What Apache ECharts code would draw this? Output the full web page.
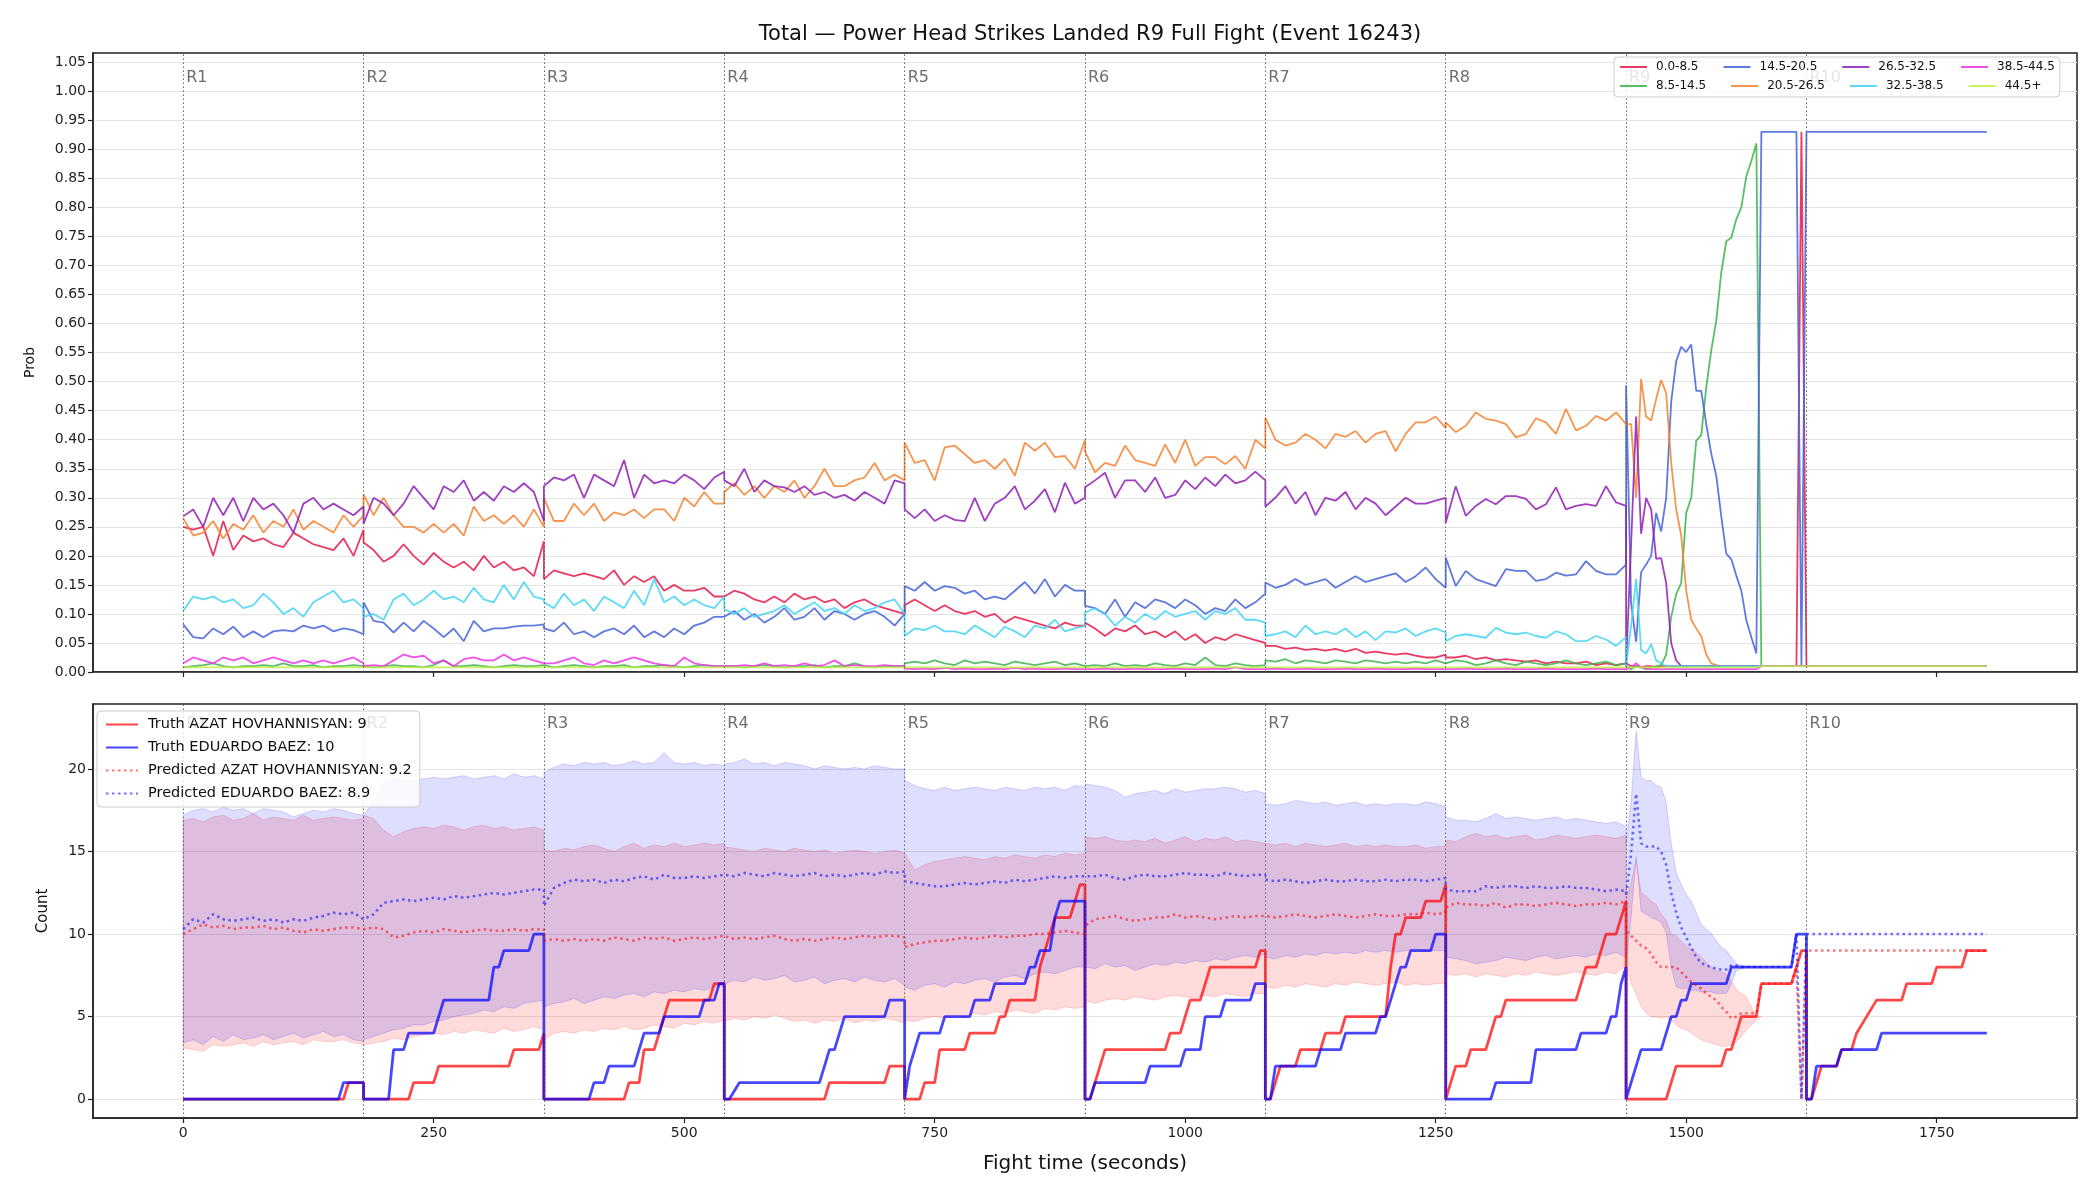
<!DOCTYPE html>
<html>
<head>
<meta charset="utf-8">
<script src="https://cdn.jsdelivr.net/npm/echarts@6/dist/echarts.min.js"></script>
<style>html,body{margin:0;padding:0;background:#fff}#c{width:2100px;height:1200px}</style>
</head>
<body>
<div id="c"></div>
<script>
// ---------------- DATA ----------------
const roundStarts = [0,180,360,540,720,900,1080,1260,1440,1620];
const roundLabels = ['R1','R2','R3','R4','R5','R6','R7','R8','R9','R10'];
const probTicks = [0,0.05,0.10,0.15,0.20,0.25,0.30,0.35,0.40,0.45,0.50,0.55,0.60,0.65,0.70,0.75,0.80,0.85,0.90,0.95,1.00,1.05];
const countTicks = [0,5,10,15,20];
const timeTicks = [0,250,500,750,1000,1250,1500,1750];

// sample times: rounds 1-8 every 10 s (round start..round end), round 9 every 5 s, round 10 start/end
const tGrid = [];
for (let r = 0; r < 8; r++) for (let k = 0; k <= 18; k++) tGrid.push(roundStarts[r] + 10 * k);
for (let k = 0; k < 36; k++) tGrid.push(1440 + 5 * k);
tGrid.push(1620, 1800);

const bucketNames = ['0.0-8.5','8.5-14.5','14.5-20.5','20.5-26.5','26.5-32.5','32.5-38.5','38.5-44.5','44.5+'];

const prob_0_8 = [
0.25,0.245,0.25,0.20,0.26,0.21,0.235,0.225,0.23,0.22,0.215,0.24,0.23,0.22,0.215,0.21,0.23,0.20,0.245,
0.223,0.21,0.19,0.20,0.22,0.20,0.185,0.205,0.19,0.18,0.19,0.175,0.20,0.18,0.19,0.175,0.18,0.165,0.225,
0.16,0.175,0.17,0.165,0.17,0.165,0.16,0.175,0.15,0.165,0.155,0.165,0.14,0.15,0.14,0.14,0.145,0.13,0.13,
0.13,0.14,0.135,0.125,0.12,0.13,0.12,0.135,0.125,0.13,0.12,0.125,0.11,0.12,0.125,0.115,0.11,0.105,0.10,
0.115,0.125,0.115,0.105,0.115,0.105,0.10,0.105,0.095,0.10,0.085,0.095,0.09,0.085,0.08,0.075,0.085,0.08,0.08,
0.085,0.075,0.062,0.075,0.07,0.08,0.065,0.07,0.06,0.07,0.055,0.065,0.05,0.06,0.055,0.065,0.06,0.055,0.05,
0.045,0.045,0.04,0.042,0.038,0.04,0.037,0.04,0.035,0.04,0.033,0.035,0.032,0.03,0.032,0.028,0.025,0.025,0.03,
0.025,0.025,0.028,0.022,0.025,0.02,0.022,0.02,0.018,0.02,0.015,0.018,0.015,0.015,0.018,0.012,0.015,0.012,0.015,
0.012,0.01,0.01,0.008,0.01,0.01,0.008,0.01,0.01,0.01, 0.01,0.01,0.01,0.01,0.01,0.01,0.01,0.01,0.01,0.01,
0.01,0.01,0.01,0.01,0.01,0.01,0.01,0.01,0.01,0.01, 0.01,0.01,0.01,0.01,0.01,0.93,
0.01,0.01];

const prob_8_14 = [
0.008,0.01,0.012,0.015,0.01,0.008,0.01,0.01,0.012,0.01,0.015,0.01,0.01,0.012,0.008,0.01,0.01,0.012,0.01,
0.01,0.008,0.01,0.012,0.01,0.01,0.008,0.012,0.02,0.01,0.01,0.012,0.01,0.008,0.01,0.012,0.01,0.01,0.012,
0.01,0.008,0.01,0.012,0.01,0.008,0.01,0.01,0.012,0.008,0.01,0.01,0.012,0.01,0.008,0.01,0.012,0.01,0.01,
0.008,0.01,0.008,0.01,0.012,0.01,0.008,0.01,0.01,0.012,0.008,0.01,0.01,0.015,0.01,0.008,0.01,0.01,0.01,
0.015,0.018,0.015,0.02,0.015,0.012,0.02,0.015,0.018,0.015,0.012,0.018,0.015,0.012,0.015,0.018,0.012,0.015,0.01,
0.01,0.012,0.01,0.015,0.01,0.012,0.01,0.015,0.012,0.01,0.015,0.012,0.025,0.012,0.01,0.015,0.012,0.01,0.012,
0.02,0.018,0.022,0.015,0.02,0.018,0.015,0.02,0.018,0.015,0.02,0.018,0.015,0.018,0.015,0.018,0.015,0.02,0.015,
0.015,0.02,0.018,0.012,0.015,0.02,0.015,0.012,0.018,0.015,0.012,0.015,0.02,0.015,0.012,0.015,0.018,0.012,0.015,
0.01,0.005,0.01,0.008,0.005,0.008,0.01,0.012,0.03,0.095, 0.134,0.153,0.274,0.30,0.398,0.408,0.49,0.554,0.605,0.688,
0.742,0.748,0.78,0.80,0.854,0.88,0.91,0.01,0.01,0.01, 0.01,0.01,0.01,0.01,0.01,0.01,
0.01,0.01];

const prob_14_20 = [
0.082,0.06,0.058,0.075,0.065,0.078,0.06,0.07,0.06,0.07,0.072,0.07,0.08,0.075,0.08,0.07,0.075,0.072,0.065,
0.12,0.088,0.085,0.068,0.085,0.07,0.088,0.075,0.06,0.075,0.053,0.088,0.07,0.075,0.075,0.078,0.08,0.08,0.082,
0.075,0.07,0.085,0.065,0.07,0.06,0.07,0.075,0.065,0.08,0.06,0.07,0.06,0.075,0.065,0.08,0.085,0.095,0.095,
0.095,0.105,0.09,0.10,0.085,0.095,0.11,0.09,0.095,0.11,0.09,0.105,0.10,0.09,0.10,0.105,0.095,0.08,0.10,
0.148,0.14,0.155,0.14,0.148,0.145,0.135,0.14,0.125,0.13,0.125,0.14,0.155,0.135,0.16,0.13,0.15,0.14,0.14,
0.114,0.11,0.10,0.125,0.095,0.12,0.11,0.125,0.12,0.11,0.125,0.115,0.10,0.11,0.105,0.125,0.11,0.12,0.135,
0.154,0.145,0.15,0.16,0.15,0.155,0.16,0.145,0.155,0.165,0.155,0.16,0.165,0.17,0.155,0.165,0.18,0.16,0.145,
0.197,0.148,0.174,0.16,0.154,0.148,0.177,0.174,0.174,0.157,0.16,0.171,0.166,0.168,0.191,0.174,0.168,0.168,0.185,
0.494,0.118,0.052,0.172,0.185,0.2,0.274,0.242,0.30,0.465, 0.535,0.56,0.551,0.564,0.484,0.484,0.427,0.376,0.338,0.268,
0.204,0.194,0.166,0.14,0.089,0.06,0.032,0.93,0.93,0.93, 0.93,0.93,0.93,0.93,0.93,0.01,
0.93,0.93];

const prob_20_26 = [
0.265,0.235,0.24,0.26,0.23,0.255,0.245,0.27,0.24,0.26,0.25,0.28,0.245,0.26,0.25,0.24,0.27,0.25,0.27,
0.306,0.27,0.30,0.27,0.25,0.25,0.24,0.255,0.24,0.255,0.235,0.285,0.26,0.27,0.255,0.27,0.25,0.28,0.25,
0.30,0.26,0.26,0.29,0.27,0.29,0.26,0.275,0.27,0.28,0.265,0.28,0.28,0.26,0.30,0.285,0.31,0.29,0.29,
0.31,0.325,0.305,0.32,0.30,0.32,0.31,0.33,0.30,0.32,0.35,0.32,0.32,0.33,0.335,0.36,0.33,0.34,0.33,
0.395,0.36,0.365,0.33,0.387,0.39,0.375,0.36,0.365,0.35,0.367,0.338,0.395,0.381,0.395,0.37,0.372,0.35,0.40,
0.38,0.344,0.36,0.355,0.39,0.365,0.36,0.355,0.392,0.36,0.40,0.355,0.37,0.37,0.358,0.372,0.35,0.40,0.385,
0.438,0.40,0.39,0.395,0.41,0.40,0.385,0.41,0.405,0.415,0.395,0.41,0.415,0.38,0.41,0.43,0.43,0.44,0.42,
0.43,0.413,0.424,0.447,0.436,0.433,0.427,0.404,0.41,0.437,0.43,0.41,0.453,0.416,0.424,0.441,0.433,0.447,0.427,
0.43,0.427,0.30,0.505,0.44,0.433,0.47,0.503,0.48,0.36, 0.28,0.235,0.14,0.09,0.075,0.062,0.03,0.015,0.012,0.01,
0.01,0.01,0.01,0.01,0.01,0.01,0.01,0.01,0.01,0.01, 0.01,0.01,0.01,0.01,0.01,0.01,
0.01,0.01];

const prob_26_32 = [
0.268,0.28,0.25,0.30,0.27,0.30,0.26,0.30,0.28,0.29,0.27,0.24,0.29,0.30,0.28,0.29,0.28,0.27,0.285,
0.255,0.30,0.29,0.27,0.29,0.32,0.30,0.28,0.32,0.31,0.33,0.295,0.31,0.295,0.32,0.31,0.325,0.31,0.26,
0.32,0.335,0.33,0.34,0.30,0.34,0.33,0.32,0.365,0.30,0.34,0.325,0.33,0.325,0.34,0.33,0.315,0.335,0.345,
0.33,0.32,0.35,0.31,0.33,0.32,0.318,0.31,0.32,0.305,0.31,0.30,0.305,0.295,0.31,0.30,0.29,0.33,0.325,
0.28,0.265,0.28,0.26,0.27,0.262,0.26,0.30,0.26,0.29,0.30,0.32,0.28,0.295,0.315,0.275,0.326,0.29,0.30,
0.318,0.33,0.343,0.30,0.33,0.33,0.31,0.335,0.30,0.305,0.33,0.315,0.335,0.32,0.34,0.325,0.33,0.345,0.33,
0.285,0.30,0.32,0.29,0.31,0.27,0.30,0.295,0.31,0.28,0.30,0.29,0.27,0.285,0.30,0.29,0.29,0.295,0.30,
0.257,0.32,0.269,0.286,0.298,0.289,0.303,0.303,0.298,0.28,0.289,0.318,0.28,0.286,0.289,0.286,0.32,0.292,0.286,
0.01,0.22,0.44,0.238,0.30,0.28,0.195,0.196,0.153,0.05, 0.02,0.01,0.01,0.01,0.01,0.01,0.01,0.01,0.01,0.01,
0.01,0.01,0.01,0.01,0.01,0.01,0.01,0.01,0.01,0.01, 0.01,0.01,0.01,0.01,0.01,0.01,
0.01,0.01];

const prob_32_38 = [
0.105,0.13,0.125,0.13,0.12,0.125,0.11,0.115,0.135,0.12,0.10,0.11,0.095,0.12,0.13,0.14,0.12,0.125,0.11,
0.095,0.10,0.09,0.125,0.135,0.115,0.125,0.14,0.125,0.13,0.12,0.145,0.125,0.12,0.15,0.125,0.155,0.13,0.125,
0.12,0.11,0.135,0.115,0.125,0.105,0.13,0.12,0.11,0.14,0.115,0.16,0.12,0.13,0.115,0.125,0.115,0.11,0.13,
0.108,0.10,0.11,0.095,0.10,0.105,0.115,0.10,0.11,0.12,0.105,0.11,0.10,0.115,0.105,0.11,0.12,0.125,0.10,
0.062,0.075,0.072,0.08,0.07,0.07,0.065,0.08,0.07,0.06,0.078,0.07,0.06,0.08,0.075,0.09,0.07,0.075,0.08,
0.102,0.11,0.10,0.08,0.095,0.085,0.10,0.09,0.105,0.095,0.10,0.105,0.09,0.105,0.10,0.11,0.09,0.09,0.085,
0.062,0.065,0.07,0.06,0.08,0.065,0.07,0.065,0.075,0.06,0.07,0.055,0.07,0.068,0.075,0.062,0.07,0.075,0.068,
0.053,0.062,0.065,0.062,0.059,0.076,0.068,0.065,0.068,0.062,0.059,0.07,0.065,0.053,0.053,0.062,0.056,0.045,0.06,
0.01,0.08,0.16,0.038,0.032,0.048,0.02,0.015,0.01,0.01, 0.01,0.01,0.01,0.01,0.01,0.01,0.01,0.01,0.01,0.01,
0.01,0.01,0.01,0.01,0.01,0.01,0.01,0.01,0.01,0.01, 0.01,0.01,0.01,0.01,0.01,0.01,
0.01,0.01];

const prob_38_44 = [
0.015,0.025,0.02,0.015,0.025,0.02,0.025,0.015,0.02,0.025,0.02,0.015,0.02,0.015,0.02,0.015,0.02,0.025,0.015,
0.01,0.012,0.01,0.02,0.03,0.025,0.028,0.015,0.02,0.01,0.022,0.025,0.02,0.02,0.03,0.02,0.025,0.02,0.015,
0.012,0.015,0.02,0.025,0.015,0.012,0.02,0.015,0.02,0.025,0.02,0.015,0.012,0.01,0.025,0.015,0.012,0.01,0.01,
0.008,0.01,0.012,0.01,0.015,0.01,0.012,0.01,0.015,0.01,0.012,0.02,0.01,0.012,0.01,0.01,0.012,0.01,0.01,
0.006,0.005,0.006,0.005,0.007,0.005,0.006,0.005,0.005,0.006,0.005,0.007,0.005,0.006,0.005,0.005,0.006,0.005,0.005,
0.005,0.005,0.006,0.005,0.005,0.006,0.005,0.005,0.005,0.006,0.005,0.005,0.005,0.006,0.005,0.008,0.005,0.005,0.005,
0.005,0.006,0.005,0.005,0.006,0.005,0.005,0.005,0.006,0.005,0.005,0.006,0.005,0.005,0.005,0.006,0.005,0.005,0.005,
0.005,0.005,0.006,0.005,0.005,0.005,0.006,0.005,0.005,0.005,0.006,0.005,0.005,0.005,0.005,0.006,0.005,0.005,0.005,
0.005,0.008,0.015,0.008,0.006,0.005,0.005,0.005,0.005,0.005, 0.005,0.005,0.005,0.005,0.005,0.005,0.005,0.005,0.005,0.005,
0.005,0.005,0.005,0.005,0.005,0.005,0.005,0.01,0.01,0.01, 0.01,0.01,0.01,0.01,0.01,0.01,
0.01,0.01];

const prob_44p = [
0.008,0.008,0.008,0.008,0.008,0.008,0.008,0.008,0.008,0.008,0.008,0.008,0.008,0.008,0.008,0.008,0.008,0.008,0.008,
0.008,0.008,0.008,0.008,0.008,0.008,0.008,0.008,0.008,0.008,0.008,0.008,0.008,0.008,0.008,0.008,0.008,0.008,0.008,
0.008,0.008,0.008,0.008,0.008,0.008,0.008,0.008,0.008,0.008,0.008,0.008,0.008,0.008,0.008,0.008,0.008,0.008,0.008,
0.008,0.008,0.008,0.008,0.008,0.008,0.008,0.008,0.008,0.008,0.008,0.008,0.008,0.008,0.008,0.008,0.008,0.008,0.008,
0.008,0.008,0.008,0.008,0.008,0.008,0.008,0.008,0.008,0.008,0.008,0.008,0.008,0.008,0.008,0.008,0.008,0.008,0.008,
0.008,0.008,0.008,0.008,0.008,0.008,0.008,0.008,0.008,0.008,0.008,0.008,0.008,0.008,0.008,0.008,0.008,0.008,0.008,
0.008,0.008,0.008,0.008,0.008,0.008,0.008,0.008,0.008,0.008,0.008,0.008,0.008,0.008,0.008,0.008,0.008,0.008,0.008,
0.008,0.008,0.008,0.008,0.008,0.008,0.008,0.008,0.008,0.008,0.008,0.008,0.008,0.008,0.008,0.008,0.008,0.008,0.008,
0.008,0.008,0.008,0.008,0.008,0.008,0.008,0.008,0.008,0.008, 0.008,0.008,0.008,0.008,0.008,0.008,0.008,0.008,0.008,0.008,
0.008,0.008,0.008,0.008,0.008,0.008,0.008,0.01,0.01,0.01, 0.01,0.01,0.01,0.01,0.01,0.01,
0.01,0.01];

// predicted counts (same time grid)
const predAzat = [
10.0,10.3,10.6,10.4,10.5,10.3,10.4,10.4,10.5,10.3,10.4,10.2,10.1,10.3,10.2,10.3,10.4,10.4,10.3,
10.2,10.4,10.3,9.8,9.9,10.1,10.2,10.1,10.3,10.2,10.1,10.2,10.3,10.2,10.2,10.3,10.2,10.3,10.3,
9.6,9.7,9.6,9.7,9.6,9.7,9.6,9.8,9.7,9.6,9.8,9.7,9.8,9.6,9.7,9.8,9.7,9.8,9.9,
9.8,9.7,9.8,9.7,9.8,9.9,9.7,9.6,9.7,9.6,9.7,9.8,9.7,9.8,9.9,9.8,9.9,9.9,9.8,
9.2,9.4,9.5,9.6,9.6,9.7,9.8,9.7,9.8,9.9,9.8,9.9,9.9,10.0,10.0,10.1,10.2,10.1,10.0,
10.5,10.9,11.0,11.1,10.9,10.8,10.9,11.0,11.0,11.2,11.0,11.1,11.0,10.9,11.0,11.1,11.0,11.1,11.1,
11.1,11.0,11.1,11.2,11.1,11.0,11.1,11.2,11.1,11.0,11.1,11.2,11.1,11.1,11.2,11.2,11.3,11.2,11.3,
11.6,11.9,11.8,11.8,11.7,11.9,11.6,11.8,11.8,11.7,11.8,11.9,11.8,11.7,11.8,11.8,11.9,11.8,12.0,
10.2,9.9,9.6,9.3,9.15,8.8,8.3,8.0,8.0,8.0, 8.0,7.7,7.4,7.1,6.9,6.7,6.4,6.2,6.0,5.6,
5.3,4.9,5.0,5.2,5.2,5.2,5.2,7,7,7, 7,7,7,7,8,0,
9,9];

const predBaez = [
10.3,10.9,10.7,11.2,10.9,10.8,10.9,11.0,10.8,10.9,10.7,10.9,10.8,11.0,11.1,11.3,11.2,11.3,10.9,
10.9,11.2,11.9,12.0,12.1,12.0,12.1,12.2,12.1,12.3,12.2,12.3,12.4,12.5,12.4,12.5,12.6,12.7,12.7,
11.7,12.8,13.1,13.3,13.2,13.3,13.1,13.3,13.2,13.4,13.5,13.3,13.6,13.4,13.4,13.5,13.4,13.5,13.6,
13.6,13.5,13.7,13.6,13.5,13.7,13.6,13.5,13.6,13.7,13.5,13.6,13.5,13.6,13.7,13.6,13.8,13.7,13.8,
13.2,13.1,13.0,12.9,12.9,13.0,13.1,13.0,13.1,13.2,13.1,13.3,13.2,13.3,13.4,13.5,13.4,13.5,13.5,
13.6,13.5,13.6,13.4,13.3,13.5,13.6,13.5,13.5,13.6,13.7,13.6,13.6,13.5,13.7,13.6,13.5,13.6,13.6,
13.3,13.2,13.3,13.2,13.1,13.2,13.3,13.2,13.2,13.3,13.2,13.2,13.3,13.2,13.3,13.3,13.2,13.3,13.4,
12.7,12.6,12.6,12.6,12.9,12.8,12.9,12.9,12.8,12.9,12.8,12.8,12.9,12.8,12.8,12.7,12.6,12.7,12.6,
12.3,14.9,18.5,15.5,15.3,15.3,15.3,15.0,14.2,12.5, 11.3,10.4,9.8,9.2,8.6,8.25,8.1,8.0,7.9,7.85,
7.85,8.1,8.1,8.0,8.0,8.0,8.0,8,8,8, 8,8,8,8,10,0,
10,10];

// prediction bands (same time grid, up to t = 1575)
const azatHi = [
16.9,17.0,16.8,17.1,17.2,16.9,17.0,17.3,16.9,17.1,17.0,16.9,17.2,16.9,17.0,17.1,17.0,16.9,17.0,
17.2,17.0,16.3,15.9,16.2,16.4,16.5,16.4,16.6,16.5,16.3,16.5,16.6,16.4,16.5,16.3,16.4,16.5,16.3,
15.1,15.0,15.2,15.1,15.3,15.4,15.2,15.0,15.3,15.5,15.2,15.4,15.3,15.5,15.3,15.4,15.5,15.4,15.5,
15.3,15.2,15.1,15.0,15.2,15.1,15.0,15.2,15.1,15.0,15.1,14.9,15.0,15.1,15.0,14.9,15.0,15.1,14.9,
14.9,13.9,14.2,14.4,14.5,14.6,14.7,14.6,14.5,14.7,14.6,14.8,14.7,14.6,14.8,14.7,14.9,14.8,14.9,
15.9,15.8,15.9,15.7,15.6,15.7,15.6,15.8,15.5,15.7,15.9,15.6,15.8,15.7,15.9,15.6,15.7,15.6,15.5,
15.5,15.4,15.5,15.3,15.5,15.4,15.3,15.4,15.5,15.3,15.4,15.3,15.4,15.3,15.3,15.4,15.2,15.3,15.3,
15.7,15.6,15.9,16.1,15.9,16.0,15.8,15.9,16.0,15.7,15.8,16.0,15.9,15.8,15.9,16.0,15.9,15.8,16.0,
12.0,13.1,14.5,12.5,12.3,12.0,11.8,11.2,10.85,10.0, 9.9,9.6,9.3,9.1,8.9,8.6,8.3,8.0,7.8,7.7,
7.6,7.1,6.7,6.4,6.2,5.6,5.0,5.0];
const azatLo = [
3.1,3.0,2.9,3.3,3.2,3.3,3.4,3.2,3.5,3.3,3.4,3.5,3.3,3.6,3.5,3.5,3.6,3.4,3.3,
3.3,3.4,3.5,3.7,3.6,3.8,3.9,4.0,3.9,4.1,4.0,4.2,4.1,4.0,4.3,4.1,4.2,4.4,4.2,
3.6,4.0,4.1,4.0,4.2,4.1,4.3,4.2,4.4,4.2,4.3,4.5,4.4,4.3,4.6,4.5,4.7,4.6,4.8,
4.7,4.9,4.8,5.0,4.9,5.1,4.9,4.7,4.8,4.6,4.8,4.7,4.9,4.6,4.8,4.7,4.9,4.8,4.6,
4.8,4.7,4.9,5.0,4.9,5.1,5.0,5.2,5.1,5.3,5.2,5.4,5.3,5.2,5.5,5.4,5.6,5.5,5.6,
6.0,5.8,6.0,6.1,6.0,6.2,6.1,6.0,6.2,6.3,6.2,6.1,6.3,6.2,6.4,6.3,6.2,6.4,6.4,
6.8,6.7,6.9,6.8,7.0,6.9,6.8,7.0,6.9,7.1,7.0,6.9,7.0,7.1,6.9,7.0,6.9,7.0,7.0,
7.6,7.5,7.6,7.4,7.6,7.5,7.4,7.6,7.5,7.7,7.6,7.5,7.6,7.7,7.6,7.5,7.7,7.6,8.1,
8.2,7.0,6.4,5.6,5.2,5.0,5.0,4.9,5.0,4.8, 4.5,4.3,4.2,4.0,3.8,3.6,3.5,3.4,3.3,3.2,
3.2,3.3,3.5,3.8,4.2,4.5,4.8,5.0];
const baezHi = [
17.2,17.5,17.6,17.4,17.7,17.5,17.6,17.3,17.6,17.5,17.4,17.1,17.3,17.5,17.4,17.6,17.5,17.3,17.2,
17.1,18.1,19.2,19.4,19.3,19.3,19.4,19.5,19.4,19.5,19.6,19.4,19.5,19.6,19.4,19.7,19.5,19.6,19.4,
19.8,20.1,20.3,20.2,20.4,20.3,20.4,20.2,20.3,20.5,20.3,20.4,21.0,20.4,20.3,20.4,20.2,20.3,20.2,
20.3,20.4,20.6,20.3,20.4,20.2,20.4,20.3,20.2,20.0,20.2,20.1,20.0,20.1,20.0,20.2,20.1,20.0,20.0,
19.3,19.0,18.8,18.7,18.9,18.7,18.8,18.9,18.8,18.7,18.9,18.8,18.7,18.9,18.8,18.9,18.7,19.0,18.9,
19.1,19.0,18.9,18.7,18.3,18.5,18.6,18.7,18.5,18.8,18.6,18.7,18.8,18.8,18.9,18.8,18.6,18.7,18.5,
17.9,17.8,17.9,18.1,18.0,17.9,18.0,17.8,17.9,18.0,17.8,17.9,17.8,17.9,17.9,17.8,18.0,17.9,17.7,
17.1,16.9,16.9,16.8,17.0,17.3,17.0,17.1,17.0,16.9,17.0,17.1,16.9,17.0,16.9,16.8,16.7,16.8,16.5,
15.5,18.0,22.3,19.5,19.3,19.3,19.0,18.9,18.0,15.5, 13.7,13.0,12.4,12.0,11.3,10.6,10.3,10.05,9.6,9.2,
9.0,8.6,8.2,8.1,8.05,8.0,8.0,8.0];
const baezLo = [
3.4,3.6,3.3,3.8,3.5,3.9,3.6,3.7,3.9,3.6,3.8,4.0,3.7,3.9,4.1,3.8,3.9,3.6,3.5,
3.6,3.8,4.0,4.2,4.3,4.5,4.5,4.7,4.8,5.0,5.1,5.2,5.4,5.3,5.6,5.5,5.8,5.9,6.0,
5.6,5.8,5.9,6.1,5.8,6.0,6.2,6.1,6.3,6.4,6.2,6.5,6.4,6.6,6.5,6.7,6.6,6.8,6.9,
7.0,7.2,7.1,7.4,7.2,7.3,7.5,7.1,7.2,7.4,7.0,7.2,7.3,7.1,7.4,7.2,7.1,7.3,6.9,
6.8,6.6,6.9,7.0,6.8,7.1,7.0,7.2,7.3,7.1,7.4,7.5,7.3,7.6,7.7,7.6,7.8,8.0,8.0,
8.0,7.9,8.2,8.0,8.1,7.8,8.0,8.2,8.1,8.3,8.2,8.4,8.3,8.5,8.4,8.6,8.7,8.6,8.8,
8.6,8.5,8.7,8.6,8.8,8.7,8.9,8.8,8.9,8.8,9.0,8.9,9.0,8.9,9.0,9.1,9.0,9.0,9.0,
8.6,8.5,8.4,8.2,8.3,8.4,8.6,8.5,8.4,8.6,8.7,8.5,8.6,8.7,8.6,8.8,8.7,8.9,8.6,
8.2,11.0,14.7,11.4,11.2,11.0,10.9,10.7,10.1,8.0, 6.8,6.7,6.7,6.6,6.6,6.5,6.5,6.5,6.4,6.4,
6.4,7.0,7.8,7.9,8.0,8.0,8.0,8.0];

// truth counts: [time, count] at each change
const truthAzat = [
[0,0],[160,0],[165,1],[180,1],
[180,0],[225,0],[230,1],[250,1],[255,2],[325,2],[330,3],[355,3],[360,4],
[360,0],[440,0],[445,1],[455,1],[460,3],[470,3],[475,4],[480,5],[485,6],[525,6],[530,7],[540,7],
[540,0],[640,0],[645,1],[700,1],[705,2],[720,2],
[720,0],[735,0],[740,1],[750,1],[755,3],[780,3],[785,4],[810,4],[815,5],[820,5],[825,6],[850,6],[855,8],[860,9],[865,10],[870,11],[885,11],[890,12],[895,13],[900,13],
[900,0],[905,0],[910,1],[915,2],[920,3],[980,3],[985,4],[995,4],[1000,5],[1005,6],[1015,6],[1020,7],[1025,8],[1070,8],[1075,9],[1080,9],
[1080,0],[1085,0],[1090,1],[1095,2],[1110,2],[1115,3],[1135,3],[1140,4],[1155,4],[1160,5],[1200,5],[1205,8],[1210,10],[1215,10],[1220,11],[1235,11],[1240,12],[1255,12],[1260,13],
[1260,0],[1265,1],[1270,2],[1280,2],[1285,3],[1300,3],[1305,4],[1310,5],[1315,5],[1320,6],[1390,6],[1395,7],[1400,8],[1410,8],[1415,9],[1420,10],[1430,10],[1435,11],[1440,12],
[1440,0],[1480,0],[1485,1],[1490,2],[1535,2],[1540,3],[1545,3],[1550,4],[1555,5],[1570,5],[1575,7],[1605,7],[1610,8],[1615,9],[1620,9],
[1620,0],[1625,0],[1630,1],[1635,2],[1650,2],[1655,3],[1665,3],[1670,4],[1680,5],[1690,6],[1715,6],[1720,7],[1745,7],[1750,8],[1775,8],[1780,9],[1800,9]
];
const truthBaez = [
[0,0],[155,0],[160,1],[180,1],
[180,0],[205,0],[210,3],[220,3],[225,4],[250,4],[255,5],[260,6],[305,6],[310,8],[315,8],[320,9],[345,9],[350,10],[360,10],
[360,0],[405,0],[410,1],[420,1],[425,2],[450,2],[455,3],[460,4],[475,4],[480,5],[515,5],[520,6],[530,6],[535,7],[540,7],
[540,0],[545,0],[555,1],[635,1],[640,2],[645,3],[650,3],[655,4],[660,5],[700,5],[705,6],[720,6],
[720,0],[725,2],[730,3],[735,4],[755,4],[760,5],[785,5],[790,6],[805,6],[810,7],[840,7],[845,8],[850,8],[855,9],[865,9],[870,11],[875,12],[900,12],
[900,0],[905,0],[910,1],[960,1],[965,2],[995,2],[1000,3],[1015,3],[1020,5],[1035,5],[1040,6],[1065,6],[1070,7],[1080,7],
[1080,0],[1085,0],[1090,2],[1130,2],[1135,3],[1155,3],[1160,4],[1190,4],[1195,5],[1200,5],[1205,6],[1210,7],[1215,8],[1220,8],[1225,9],[1245,9],[1250,10],[1260,10],
[1260,0],[1305,0],[1310,1],[1345,1],[1350,3],[1390,3],[1395,4],[1420,4],[1425,5],[1430,5],[1435,7],[1440,8],
[1440,0],[1445,1],[1450,2],[1455,3],[1475,3],[1480,4],[1485,5],[1490,5],[1495,6],[1500,6],[1505,7],[1540,7],[1545,8],[1605,8],[1610,10],[1620,10],
[1620,0],[1625,0],[1630,2],[1650,2],[1655,3],[1690,3],[1695,4],[1800,4]
];

const fighterLegend = ['Truth AZAT HOVHANNISYAN: 9','Truth EDUARDO BAEZ: 10','Predicted AZAT HOVHANNISYAN: 9.2','Predicted EDUARDO BAEZ: 8.9'];

// ---------------- CHART ----------------
const FONT = '"DejaVu Sans", "Liberation Sans", sans-serif';
const bucketValues = [prob_0_8, prob_8_14, prob_14_20, prob_20_26, prob_26_32, prob_32_38, prob_38_44, prob_44p];
const bucketColors = ['#e6194b','#3cb44b','#4363d8','#f58231','#911eb4','#42d4f4','#f032e6','#bfef45'];
const pairs = arr => arr.map((v, i) => [tGrid[i], v]);

const chart = echarts.init(document.getElementById('c'), null, {renderer: 'canvas', width: 2100, height: 1200});

const roundMarkLine = {
  silent: true, symbol: ['none','none'], label: {show: false}, animation: false,
  lineStyle: {type: [1.5, 2.5], color: '#555', width: 1, opacity: 0.9},
  emphasis: {disabled: true},
  data: roundStarts.map(t => ({xAxis: t}))
};

const series = [];
bucketNames.forEach((n, i) => {
  const s = {
    name: n, type: 'line', xAxisIndex: 0, yAxisIndex: 0,
    data: pairs(bucketValues[i]), symbol: 'none', showSymbol: false,
    color: bucketColors[i], lineStyle: {width: 1.8, opacity: 0.85}, z: 2, silent: true
  };
  if (i === 0) s.markLine = roundMarkLine;
  series.push(s);
});

function band(lo, hi, fill, stroke) {
  return {
    type: 'custom', xAxisIndex: 1, yAxisIndex: 1, silent: true, z: 1,
    data: [[0, 0]],
    renderItem: function (params, api) {
      const pts = [];
      for (let i = 0; i < hi.length; i++) pts.push(api.coord([tGrid[i], hi[i]]));
      for (let i = lo.length - 1; i >= 0; i--) pts.push(api.coord([tGrid[i], lo[i]]));
      return {type: 'polygon', shape: {points: pts}, style: {fill: fill, stroke: stroke, lineWidth: 1}};
    }
  };
}
series.push(band(azatLo, azatHi, 'rgba(255,0,0,0.14)', 'rgba(255,0,0,0.16)'));
series.push(band(baezLo, baezHi, 'rgba(0,0,255,0.13)', 'rgba(0,0,255,0.16)'));

series.push({name: fighterLegend[0], type: 'line', xAxisIndex: 1, yAxisIndex: 1, data: truthAzat,
  symbol: 'none', color: '#ff0000', lineStyle: {width: 2.8, opacity: 0.72}, z: 3, silent: true, markLine: roundMarkLine});
series.push({name: fighterLegend[1], type: 'line', xAxisIndex: 1, yAxisIndex: 1, data: truthBaez,
  symbol: 'none', color: '#0000ff', lineStyle: {width: 2.8, opacity: 0.72}, z: 3, silent: true});
series.push({name: fighterLegend[2], type: 'line', xAxisIndex: 1, yAxisIndex: 1, data: pairs(predAzat),
  symbol: 'none', color: '#ff0000', lineStyle: {width: 2.5, opacity: 0.55, type: [2.5, 3.5]}, z: 4, silent: true});
series.push({name: fighterLegend[3], type: 'line', xAxisIndex: 1, yAxisIndex: 1, data: pairs(predBaez),
  symbol: 'none', color: '#0000ff', lineStyle: {width: 2.5, opacity: 0.55, type: [2.5, 3.5]}, z: 4, silent: true});

const axisLineStyle = {show: true, onZero: false, lineStyle: {color: '#222', width: 1.5}};
const tickStyle = {show: true, inside: false, length: 5, lineStyle: {color: '#222', width: 1.2}};
const labelStyle = {fontSize: 14, color: '#222', fontFamily: FONT};
const legendIconHide = {opacity: 0};

const option = {
  animation: false,
  backgroundColor: '#ffffff',
  textStyle: {fontFamily: FONT},
  title: {text: 'Total \u2014 Power Head Strikes Landed R9 Full Fight (Event 16243)', left: 1085, textAlign: 'center', top: 19,
    textStyle: {fontSize: 21, fontWeight: 'normal', color: '#111', fontFamily: FONT}},
  grid: [
    {left: 93, top: 53, width: 1984, height: 619, show: true, borderColor: '#222', borderWidth: 1.5, containLabel: false},
    {left: 93, top: 704, width: 1984, height: 414, show: true, borderColor: '#222', borderWidth: 1.5, containLabel: false}
  ],
  legend: [
    {data: ['0.0-8.5','14.5-20.5','26.5-32.5','38.5-44.5'], left: 1614, top: 57, orient: 'horizontal',
     padding: [4, 5, 24, 5], itemGap: 24, itemWidth: 27, itemHeight: 10, selectedMode: false,
     itemStyle: legendIconHide,
     backgroundColor: 'rgba(255,255,255,0.82)', borderColor: '#cccccc', borderWidth: 1, borderRadius: 4,
     textStyle: {fontSize: 12, color: '#111', width: 58, padding: [0,0,0,4], fontFamily: FONT}, z: 10},
    {data: ['8.5-14.5','20.5-26.5','32.5-38.5','44.5+'], left: 1614, top: 80, orient: 'horizontal',
     padding: [0, 5, 0, 5], itemGap: 24, itemWidth: 27, itemHeight: 10, selectedMode: false,
     itemStyle: legendIconHide,
     textStyle: {fontSize: 12, color: '#111', width: 58, padding: [0,0,0,4], fontFamily: FONT}, z: 11},
    {data: fighterLegend, left: 97, top: 711, orient: 'vertical', padding: [6, 8, 6, 8], itemGap: 8,
     itemWidth: 32, itemHeight: 14, selectedMode: false,
     itemStyle: legendIconHide,
     backgroundColor: 'rgba(255,255,255,0.82)', borderColor: '#cccccc', borderWidth: 1, borderRadius: 4,
     textStyle: {fontSize: 14.5, color: '#111', padding: [0,0,0,5], fontFamily: FONT}, z: 10}
  ],
  xAxis: [
    {gridIndex: 0, type: 'value', min: -90, max: 1890,
     axisLine: axisLineStyle, axisTick: Object.assign({customValues: timeTicks}, tickStyle),
     axisLabel: {show: false}, splitLine: {show: false}},
    {gridIndex: 1, type: 'value', min: -90, max: 1890,
     axisLine: axisLineStyle, axisTick: Object.assign({customValues: timeTicks}, tickStyle),
     axisLabel: Object.assign({customValues: timeTicks, margin: 8, formatter: v => String(v)}, labelStyle), splitLine: {show: false},
     name: 'Fight time (seconds)', nameLocation: 'middle', nameGap: 36,
     nameTextStyle: {fontSize: 20, color: '#111', fontFamily: FONT}}
  ],
  yAxis: [
    {gridIndex: 0, type: 'value', min: 0, max: 1.066, interval: 0.05,
     axisLine: axisLineStyle, axisTick: Object.assign({customValues: probTicks}, tickStyle),
     axisLabel: Object.assign({customValues: probTicks, margin: 7, formatter: v => v.toFixed(2)}, labelStyle),
     splitLine: {show: true, lineStyle: {color: '#e4e4e4', width: 1}},
     name: 'Prob', nameLocation: 'middle', nameGap: 56, nameTextStyle: {fontSize: 14, color: '#111', fontFamily: FONT}},
    {gridIndex: 1, type: 'value', min: -1.14, max: 23.94,
     axisLine: axisLineStyle, axisTick: Object.assign({customValues: countTicks}, tickStyle),
     axisLabel: Object.assign({customValues: countTicks, margin: 7}, labelStyle),
     splitLine: {show: true, lineStyle: {color: '#e4e4e4', width: 1}},
     name: 'Count', nameLocation: 'middle', nameGap: 42, nameTextStyle: {fontSize: 15, color: '#111', fontFamily: FONT}}
  ],
  series: series
};
chart.setOption(option);

// round labels placed through the x scale
const labelEls = [];
roundStarts.forEach((t, i) => {
  const x = chart.convertToPixel({xAxisIndex: 0}, t);
  labelEls.push({type: 'text', x: x + 3, y: 78, z: 3, silent: true,
    style: {text: roundLabels[i], fill: '#6e6e6e', fontSize: 16, fontFamily: FONT, verticalAlign: 'middle'}});
  labelEls.push({type: 'text', x: x + 3, y: 724, z: 3, silent: true,
    style: {text: roundLabels[i], fill: '#6e6e6e', fontSize: 16, fontFamily: FONT, verticalAlign: 'middle'}});
});
chart.setOption({graphic: labelEls});
</script>
</body>
</html>
